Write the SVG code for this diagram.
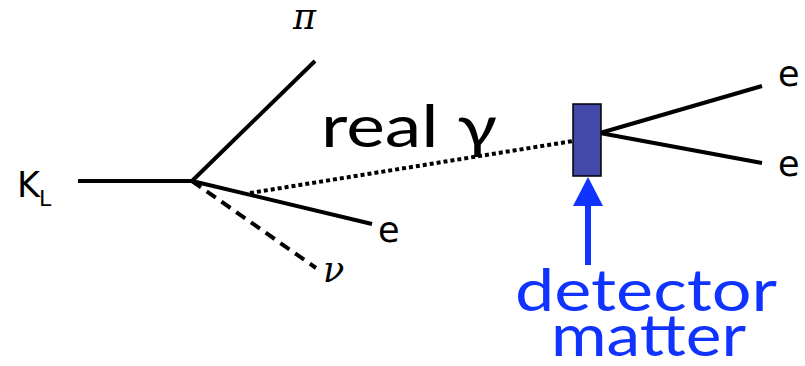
<svg xmlns="http://www.w3.org/2000/svg" width="805" height="366" viewBox="0 0 805 366">
<style>
.ln{stroke:#000;stroke-width:4;fill:none;stroke-linecap:butt}
.lbl{font-family:"DejaVu Sans",sans-serif;font-size:35px;fill:#000}
.grk{font-family:"DejaVu Serif","Liberation Serif",serif;font-style:italic;font-size:35px;fill:#000}
.big{font-family:Lato,"Open Sans",sans-serif;font-size:58px}
</style>
<rect width="805" height="366" fill="#fff"/>
<g id="connectors">
<line class="ln" x1="78" y1="181" x2="193" y2="181"/>
<line class="ln" x1="192" y1="181" x2="315" y2="61"/>
<line class="ln" x1="192" y1="181" x2="372" y2="224"/>
<line class="ln" x1="192" y1="181" x2="316" y2="268" stroke-width="3" stroke-dasharray="11,7"/>
<line class="ln" x1="250" y1="193" x2="573" y2="141" stroke-width="4" stroke-dasharray="4,3"/>
<line class="ln" x1="600" y1="133" x2="762" y2="86"/>
<line class="ln" x1="600" y1="133" x2="762" y2="163"/>
<line x1="588" y1="265" x2="588" y2="200" stroke="#1133ff" stroke-width="6"/>
<polygon points="573,206 603,206 588,177" fill="#1133ff"/>
</g>
<g id="KL"><text class="lbl" x="17" y="197">K</text><text x="39" y="206" font-family="DejaVu Sans,sans-serif" font-size="22">L</text></g>
<g id="pi"><text class="grk" x="293" y="29" font-size="31">π</text></g>
<g id="e1"><text class="lbl" x="378" y="242">e</text></g>
<g id="nu"><text class="grk" x="323" y="282">ν</text></g>
<g id="gamma"><text class="big" x="321" y="147" font-size="66" fill="#000" textLength="176" lengthAdjust="spacingAndGlyphs">real γ</text></g>
<g id="detector"><rect x="573" y="104" width="28" height="72" fill="#4249a9" stroke="#000" stroke-width="1.5"/></g>
<g id="e2"><text class="lbl" x="778" y="86">e</text></g>
<g id="e3"><text class="lbl" x="778" y="176">e</text></g>
<g id="label"><text class="big" x="515" y="311" fill="#1133ff" textLength="262" lengthAdjust="spacingAndGlyphs">detector</text><text class="big" x="551" y="356" fill="#1133ff" textLength="195" lengthAdjust="spacingAndGlyphs">matter</text></g>
</svg>
